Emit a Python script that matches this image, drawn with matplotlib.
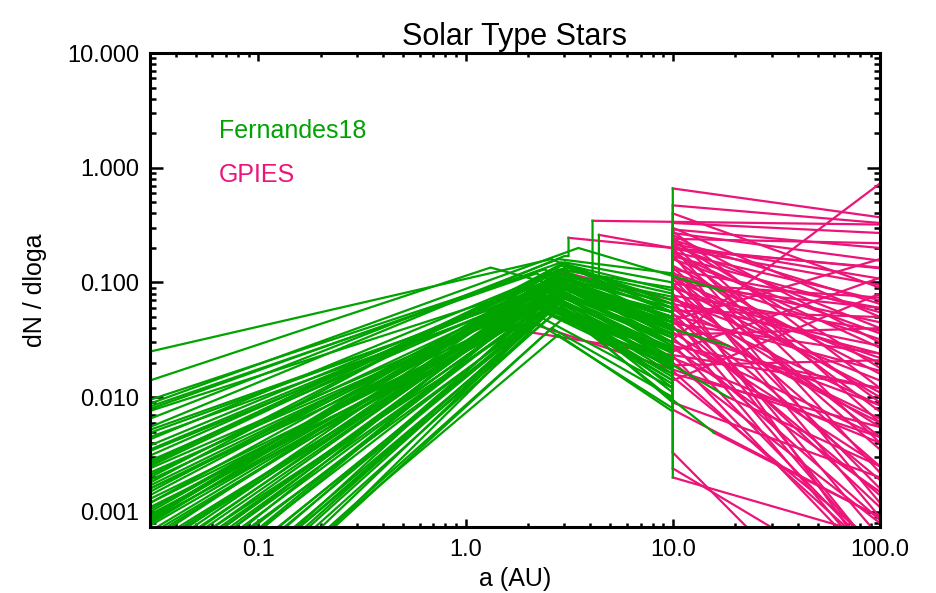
import matplotlib
matplotlib.use('Agg')
import matplotlib.pyplot as plt
from matplotlib.ticker import FixedLocator, NullFormatter

plt.rcParams['font.family'] = ['Liberation Sans', 'DejaVu Sans']

GREEN = '#00A300'
PINK = '#EC1479'

title = 'Solar Type Stars'
x_label = 'a (AU)'
y_label = 'dN / dloga'
legend_labels = ['Fernandes18', 'GPIES']

a_left = 0.03
a_right = 100.0

x_major = [0.1, 1.0, 10.0, 100.0]
x_major_labels = ['0.1', '1.0', '10.0', '100.0']
y_major = [0.001, 0.01, 0.1, 1.0, 10.0]
y_major_labels = ['0.001', '0.010', '0.100', '1.000', '10.000']

# Fernandes18 broken power laws: value at a_left, peak location/value, end location/value
g_left = [0.025, 0.014, 0.0095, 0.0088, 0.0083, 0.0079, 0.0076, 0.0055, 0.0052, 0.0049,
          0.0043, 0.0038, 0.0034, 0.0031, 0.0028, 0.0026, 0.0024, 0.0022, 0.0020, 0.0019,
          0.0017, 0.0016, 0.0015, 0.0014, 0.0013, 0.0012, 0.0011, 0.00105, 0.0010, 0.00095,
          0.00092, 0.00088, 0.00085, 0.00082, 0.00079, 0.00076, 0.00068, 0.00064, 0.00060, 0.00056,
          0.00052, 0.00049, 0.00047, 0.00044, 0.00041, 0.00038, 0.00036, 0.00034, 0.00032, 0.00030,
          0.00028, 0.00026, 0.00025, 0.00023, 0.00022, 0.00020, 0.00019, 0.00017, 0.00016, 0.00015,
          0.00013, 0.00012, 0.00011, 0.000095, 0.00009, 0.00008, 0.00007, 0.000065, 0.00006, 0.000055,
          0.00005, 0.000045, 0.000042, 0.000038, 0.000035, 0.00003, 0.000028, 0.000025, 0.00002, 0.0016,
          0.0027, 0.0045, 0.0021, 0.0009, 0.0035, 0.0018, 0.0012, 0.00086, 0.0025, 0.0065]
g_peak_a = [2.6, 1.32, 2.4, 3.5, 2.2, 2.9, 2.5, 3.0, 2.6, 2.3,
            3.2, 2.7, 2.0, 3.3, 2.8, 2.5, 3.1, 2.4, 2.9, 2.6,
            3.4, 2.2, 2.7, 2.7, 3.0, 2.5, 2.8, 2.3, 3.2, 2.6,
            2.4, 3.0, 2.9, 2.1, 2.6, 3.1, 2.7, 2.5, 3.1, 2.8,
            2.3, 2.9, 2.8, 2.4, 2.6, 3.3, 3.0, 2.2, 2.5, 2.7,
            2.9, 3.2, 2.2, 2.6, 3.3, 2.8, 2.7, 2.4, 3.0, 3.0,
            2.6, 2.5, 2.8, 2.3, 2.9, 3.1, 2.5, 2.7, 2.9, 3.4,
            2.7, 2.4, 2.2, 3.0, 2.8, 3.0, 2.6, 2.6, 2.9, 1.3,
            2.9, 2.0, 2.5, 2.8, 2.6, 3.0, 2.3, 3.2, 2.7, 2.8]
g_peak = [0.16, 0.135, 0.13, 0.20, 0.12, 0.15, 0.10, 0.17, 0.09, 0.085,
          0.14, 0.11, 0.075, 0.13, 0.10, 0.12, 0.09, 0.07, 0.14, 0.08,
          0.11, 0.06, 0.105, 0.10, 0.075, 0.095, 0.065, 0.08, 0.12, 0.07,
          0.085, 0.11, 0.07, 0.065, 0.11, 0.095, 0.09, 0.075, 0.105, 0.12,
          0.065, 0.09, 0.08, 0.10, 0.10, 0.115, 0.12, 0.07, 0.06, 0.095,
          0.085, 0.10, 0.07, 0.08, 0.095, 0.11, 0.075, 0.055, 0.13, 0.09,
          0.065, 0.085, 0.10, 0.05, 0.075, 0.08, 0.07, 0.06, 0.06, 0.09,
          0.085, 0.055, 0.045, 0.065, 0.035, 0.05, 0.06, 0.04, 0.07, 0.045,
          0.13, 0.07, 0.09, 0.13, 0.10, 0.15, 0.06, 0.14, 0.12, 0.16]
g_break_a = [10, 10, 10, 17.6, 10, 10, 10, 3.14, 10, 10,
             10, 10, 10, 4.1, 10, 10, 10, 10, 10, 10,
             4.4, 10, 10, 10, 10, 10, 10, 10, 10, 10,
             10, 10, 10, 10, 10, 10, 10, 10, 10, 10,
             10, 10, 18.5, 10, 10, 10, 10, 10, 10, 10,
             10, 10, 10, 10, 10, 10, 18.5, 10, 10, 10,
             10, 10, 10, 10, 10, 10, 15.8, 10, 10, 10,
             10, 10, 10, 10, 10, 10, 10, 10, 10, 1.3,
             2.9, 2.0, 10, 10, 10, 10, 10, 10, 10, 10]
g_break = [0.055, 0.05, 0.04, 0.084, 0.028, 0.065, 0.035, 0.17, 0.022, 0.045,
           0.06, 0.03, 0.018, 0.11, 0.05, 0.033, 0.025, 0.015, 0.07, 0.012,
           0.095, 0.02, 0.048, 0.04, 0.02, 0.055, 0.011, 0.027, 0.045, 0.016,
           0.03, 0.06, 0.024, 0.022, 0.038, 0.042, 0.028, 0.019, 0.05, 0.075,
           0.018, 0.036, 0.028, 0.045, 0.042, 0.055, 0.065, 0.021, 0.014, 0.038,
           0.03, 0.048, 0.026, 0.017, 0.035, 0.06, 0.010, 0.016, 0.08, 0.04,
           0.02, 0.033, 0.055, 0.012, 0.026, 0.03, 0.0049, 0.014, 0.009, 0.045,
           0.033, 0.019, 0.008, 0.022, 0.0075, 0.013, 0.025, 0.01, 0.025, 0.045,
           0.13, 0.07, 0.03, 0.09, 0.05, 0.1, 0.025, 0.085, 0.065, 0.12]

# GPIES power laws: value at the break and at a_right
p_start = [0.66, 0.47, 0.40, 0.084, 0.33, 0.30, 0.29, 0.245, 0.28, 0.27,
           0.26, 0.25, 0.24, 0.345, 0.235, 0.23, 0.22, 0.215, 0.21, 0.2,
           0.26, 0.195, 0.19, 0.185, 0.18, 0.175, 0.17, 0.165, 0.16, 0.14,
           0.135, 0.13, 0.125, 0.12, 0.118, 0.115, 0.11, 0.108, 0.105, 0.1,
           0.097, 0.094, 0.028, 0.092, 0.09, 0.08, 0.077, 0.075, 0.072, 0.068,
           0.065, 0.062, 0.06, 0.057, 0.054, 0.052, 0.010, 0.05, 0.048, 0.047,
           0.046, 0.044, 0.042, 0.04, 0.037, 0.035, 0.0049, 0.033, 0.032, 0.031,
           0.029, 0.028, 0.027, 0.025, 0.023, 0.022, 0.02, 0.019, 0.017, 0.042,
           0.125, 0.045, 0.016, 0.015, 0.014, 0.009, 0.0078, 0.0033, 0.0024, 0.0020]
p_end = [0.37, 0.33, 0.09, 0.06, 0.27, 0.05, 0.2, 0.133, 0.012, 0.155,
         0.03, 0.006, 0.22, 0.32, 0.065, 0.018, 0.004, 0.108, 0.04, 0.0022,
         0.095, 0.135, 0.009, 0.07, 0.027, 0.0012, 0.055, 0.0075, 0.036, 0.016,
         0.0035, 0.06, 0.0009, 0.032, 0.01, 0.0045, 0.045, 0.0016, 0.02, 0.0003,
         0.074, 0.011, 0.006, 0.0025, 0.022, 0.0006, 0.038, 0.0055, 0.014, 0.0004,
         0.028, 0.0085, 0.0019, 0.05, 0.0011, 0.017, 0.0025, 0.0004, 0.0065, 0.16,
         0.0014, 0.024, 0.0003, 0.0085, 0.0025, 0.04, 0.0009, 0.00085, 0.73, 0.0045,
         0.0004, 0.012, 0.0015, 0.11, 0.0003, 0.004, 0.0008, 0.021, 0.0004, 0.012,
         0.024, 0.0045, 0.0055, 0.0005, 0.08, 0.002, 0.0009, 0.00005, 0.0002, 0.0006]

W, H = 937, 593
fig = plt.figure(figsize=(W / 100, H / 100), dpi=100)
ax = fig.add_axes([150 / W, (H - 527) / H, 730 / W, 474 / H])

for i in range(len(g_left)):
    gx = [a_left, g_peak_a[i], g_break_a[i], g_break_a[i]]
    gy = [g_left[i], g_peak[i], g_break[i], p_start[i]]
    ax.plot(gx, gy, color=GREEN, lw=1.6, solid_joinstyle='miter', zorder=3)
    ax.plot([g_break_a[i], a_right], [p_start[i], p_end[i]], color=PINK, lw=1.6, zorder=2)

ax.set_xscale('log')
ax.set_yscale('log')
ax.set_xlim(a_left, a_right)
ax.set_ylim(7.4e-4, 10.0)

ax.xaxis.set_major_locator(FixedLocator(x_major))
ax.set_xticklabels(x_major_labels)
ax.yaxis.set_major_locator(FixedLocator(y_major))
ax.set_yticklabels(y_major_labels)
x_minor = [m * d for d in (0.01, 0.1, 1.0, 10.0) for m in range(2, 10)]
y_minor = [m * d for d in (0.0001, 0.001, 0.01, 0.1, 1.0) for m in range(2, 10)]
ax.xaxis.set_minor_locator(FixedLocator(x_minor))
ax.yaxis.set_minor_locator(FixedLocator(y_minor))
ax.xaxis.set_minor_formatter(NullFormatter())
ax.yaxis.set_minor_formatter(NullFormatter())

for s in ax.spines.values():
    s.set_linewidth(2.2)
    s.set_zorder(5)
ax.tick_params(axis='both', which='both', direction='in', top=True, right=True,
               labelsize=17, width=1.8)
ax.tick_params(axis='x', which='major', length=6, pad=9)
ax.tick_params(axis='x', which='minor', length=3)
ax.tick_params(axis='y', which='major', length=9.5, pad=8)
ax.tick_params(axis='y', which='minor', length=4.5)

ax.set_title(title, fontsize=22, pad=6)
ax.set_xlabel(x_label, fontsize=18, labelpad=4)
ax.set_ylabel(y_label, fontsize=18, labelpad=14)

fig.text(219 / W, 1 - 138 / H, legend_labels[0], color=GREEN, fontsize=18, va='baseline')
fig.text(219 / W, 1 - 182 / H, legend_labels[1], color=PINK, fontsize=18, va='baseline')

fig.savefig('out.png', dpi=100)
